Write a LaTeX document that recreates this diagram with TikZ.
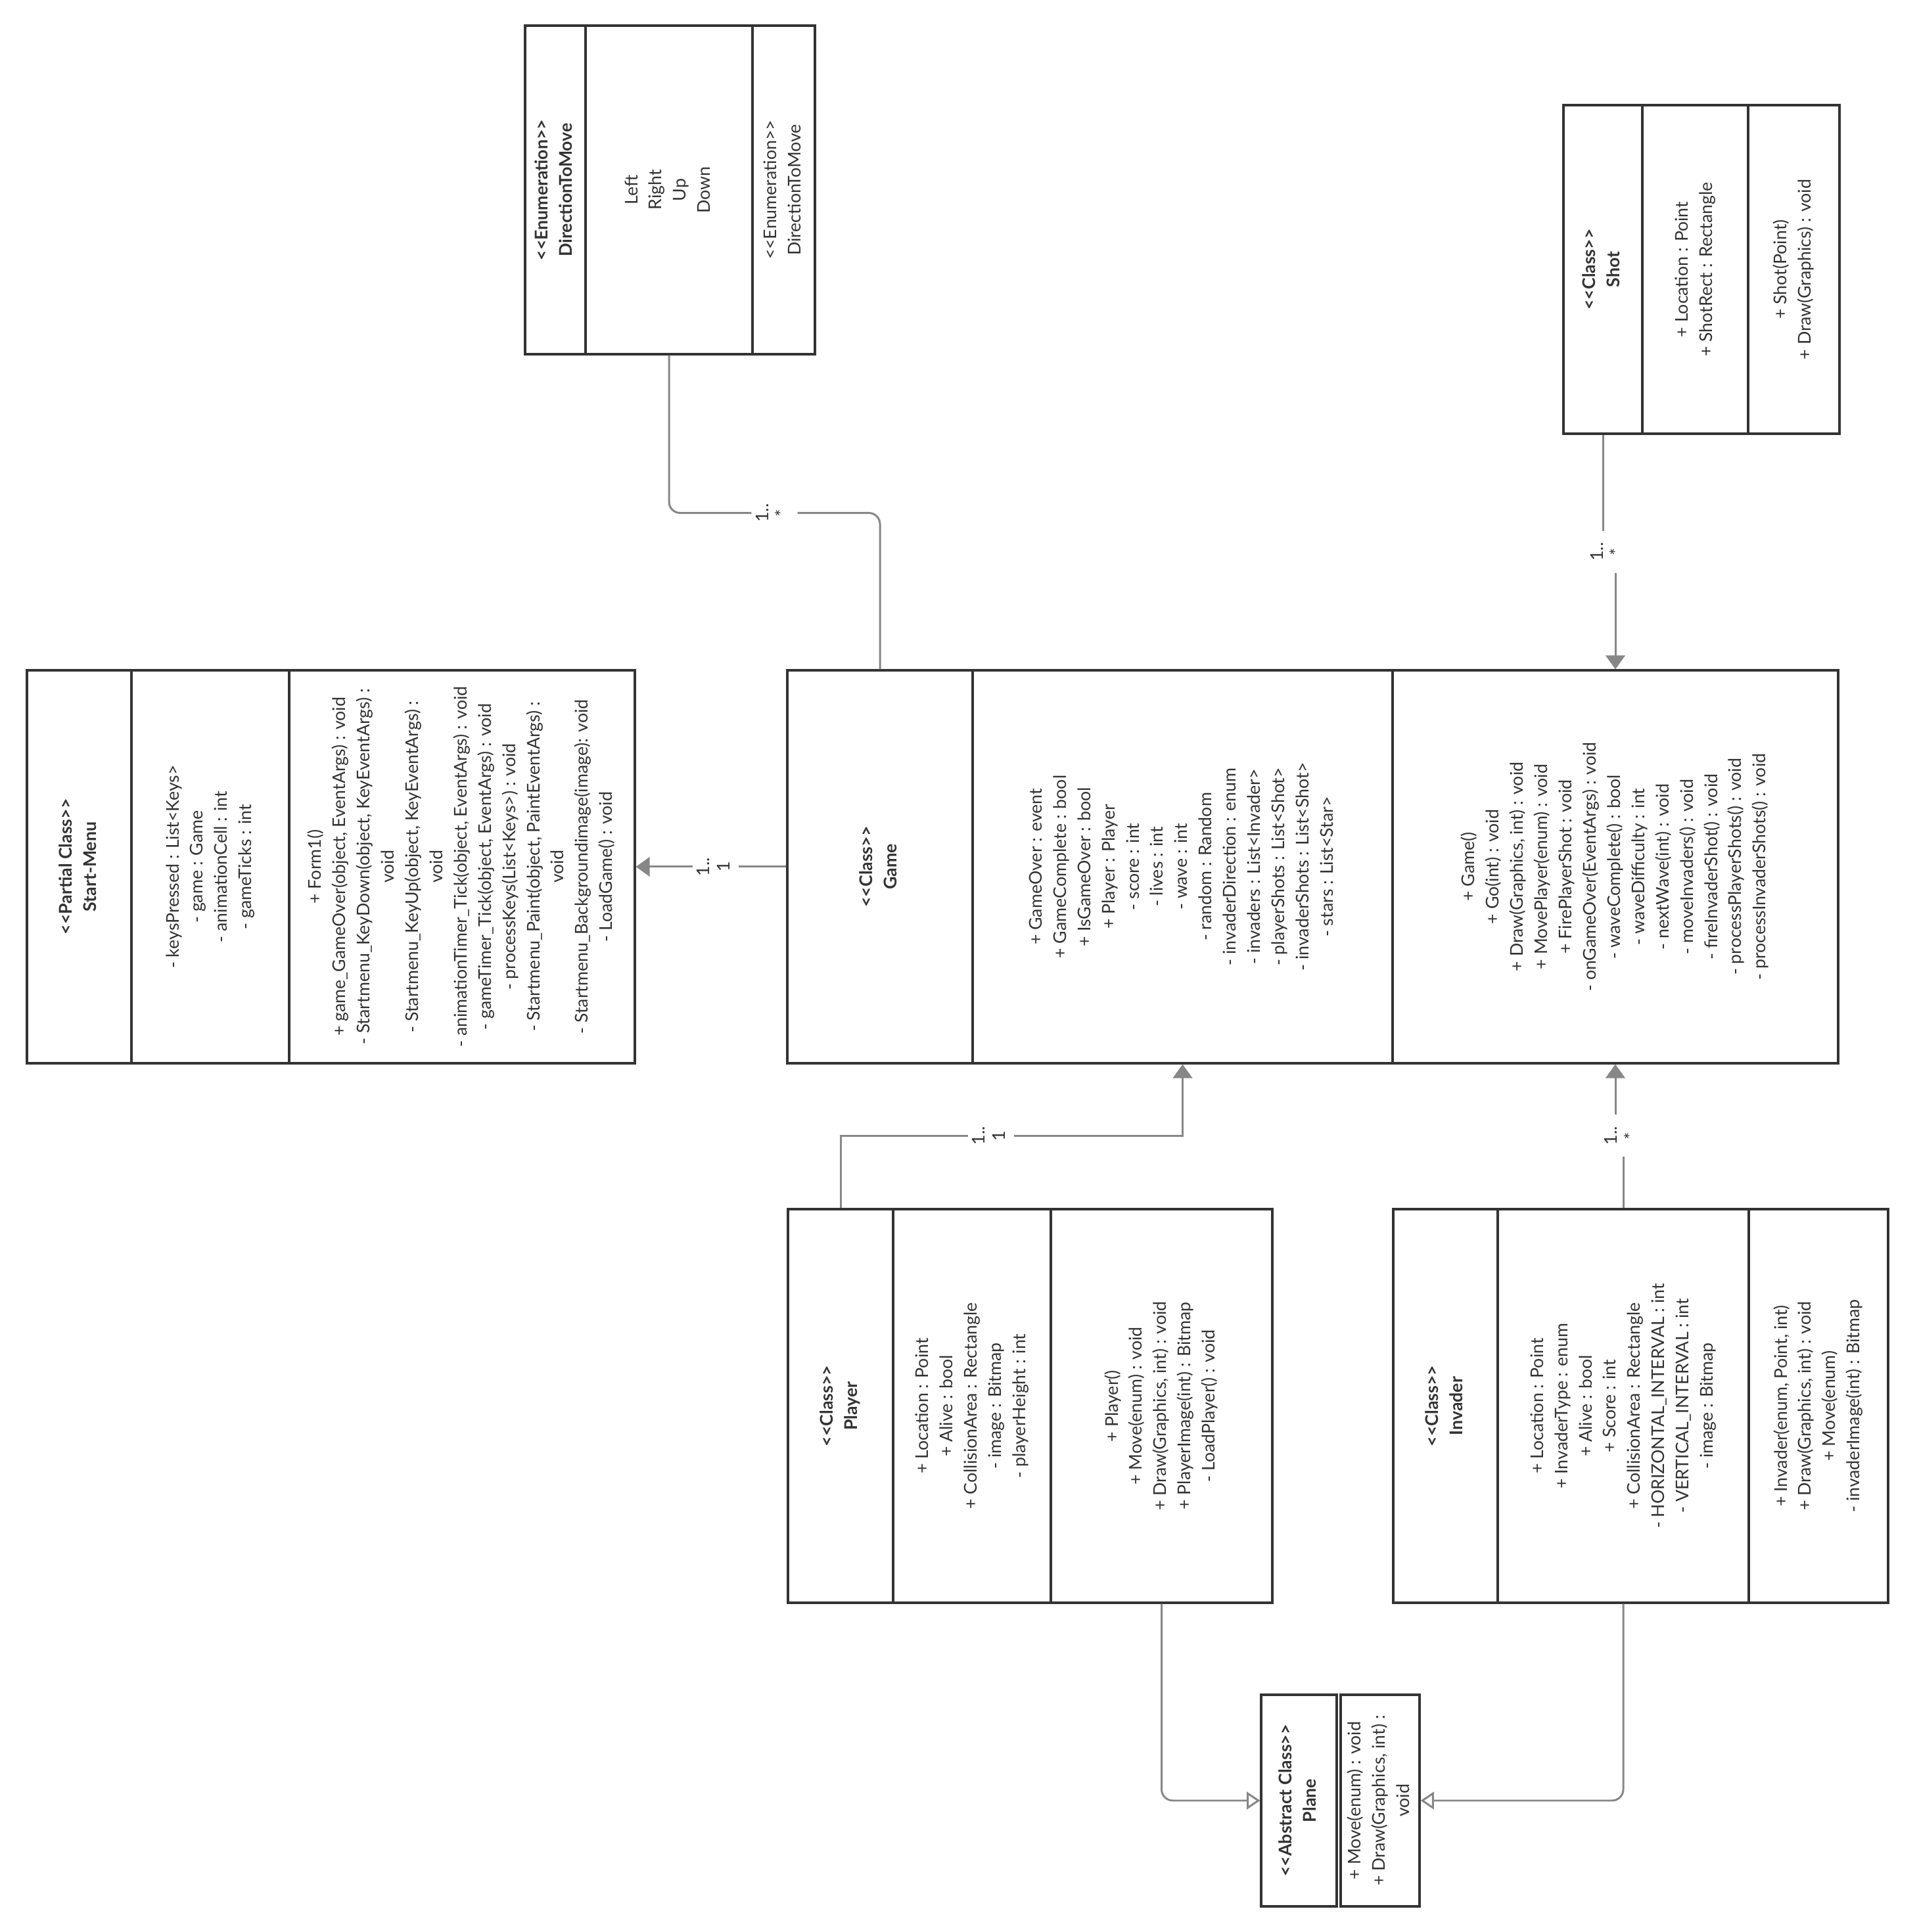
\documentclass[tikz,border=0pt]{standalone}
\usepackage{fontspec}
\setmainfont{Lato}
\usepackage{graphicx}
\usetikzlibrary{arrows.meta}
\definecolor{BoxLine}{HTML}{333333}
\definecolor{LinkGray}{HTML}{878787}
\newcommand{\vtext}[1]{\rotatebox{90}{\begin{tabular}{@{}c@{}}#1\end{tabular}}}
\newcommand{\stereo}[1]{<{}<#1>{}>}

\begin{document}
\begin{tikzpicture}[
    cell/.style={draw=BoxLine, line width=0.9pt, inner sep=0pt, text=BoxLine, font=\fontsize{7.6}{10.5}\selectfont},
    link/.style={draw=LinkGray, line width=0.85pt},
    mult/.style={fill=white, inner xsep=0.5mm, inner ysep=1.8mm, text=BoxLine, font=\fontsize{7.6}{8.6}\selectfont},
    assoc/.style={link, -{Triangle[length=6pt, width=8.4pt]}},
    inherit/.style={link, -{Triangle[open, length=5.8pt, width=7.6pt]}}
]
\useasboundingbox (0,0) rectangle (29.2,29.4);

% Start-Menu
\node[cell, minimum width=1.59cm, minimum height=5.98cm] (smT) at (1.205,16.21) {\vtext{\textbf{\stereo{Partial Class}}\\\textbf{Start-Menu}}};
\node[cell, minimum width=2.40cm, minimum height=5.98cm] (smA) at (3.20,16.21) {\vtext{- keysPressed : List<Keys>\\- game : Game\\- animationCell : int\\- gameTicks : int}};
\node[cell, minimum width=5.26cm, minimum height=5.98cm] (smM) at (7.03,16.21) {\vtext{+ Form1()\\+ game\_GameOver(object, EventArgs) : void\\- Startmenu\_KeyDown(object, KeyEventArgs) :\\void\\- Startmenu\_KeyUp(object, KeyEventArgs) :\\void\\- animationTimer\_Tick(object, EventArgs) : void\\- gameTimer\_Tick(object, EventArgs) : void\\- processKeys(List<Keys>) : void\\- Startmenu\_Paint(object, PaintEventArgs) :\\void\\- Startmenu\_Backgroundimage(image): void\\- LoadGame() : void}};

% Game
\node[cell, minimum width=2.82cm, minimum height=5.98cm] (gT) at (13.39,16.21) {\vtext{\textbf{\stereo{Class}}\\\textbf{Game}}};
\node[cell, minimum width=6.39cm, minimum height=5.98cm] (gA) at (17.995,16.21) {\vtext{+ GameOver : event\\+ GameComplete : bool\\+ IsGameOver : bool\\+ Player : Player\\- score : int\\- lives : int\\- wave : int\\- random : Random\\- invaderDirection : enum\\- invaders : List<Invader>\\- playerShots : List<Shot>\\- invaderShots : List<Shot>\\- stars : List<Star>}};
\node[cell, minimum width=6.78cm, minimum height=5.98cm] (gM) at (24.58,16.21) {\vtext{+ Game()\\+ Go(int) : void\\+ Draw(Graphics, int) : void\\+ MovePlayer(enum) : void\\+ FirePlayerShot : void\\- onGameOver(EventArgs) : void\\- waveComplete() : bool\\- waveDifficulty : int\\- nextWave(int) : void\\- moveInvaders() : void\\- fireInvaderShot() : void\\- processPlayerShots() : void\\- processInvaderShots() : void}};

% DirectionToMove
\node[cell, minimum width=0.92cm, minimum height=5.00cm] (eT) at (8.45,26.51) {\vtext{\textbf{\stereo{Enumeration}}\\\textbf{DirectionToMove}}};
\node[cell, minimum width=2.54cm, minimum height=5.00cm] (eA) at (10.18,26.51) {\vtext{Left\\Right\\Up\\Down}};
\node[cell, minimum width=0.95cm, minimum height=5.00cm] (eM) at (11.925,26.51) {\vtext{\stereo{Enumeration}\\DirectionToMove}};

% Shot
\node[cell, minimum width=1.20cm, minimum height=5.00cm] (sT) at (24.39,25.30) {\vtext{\textbf{\stereo{Class}}\\\textbf{Shot}}};
\node[cell, minimum width=1.61cm, minimum height=5.00cm] (sA) at (25.795,25.30) {\vtext{+ Location : Point\\+ ShotRect : Rectangle}};
\node[cell, minimum width=1.39cm, minimum height=5.00cm] (sM) at (27.295,25.30) {\vtext{+ Shot(Point)\\+ Draw(Graphics) : void}};

% Player
\node[cell, minimum width=1.60cm, minimum height=5.99cm] (pT) at (12.79,8.005) {\vtext{\textbf{\stereo{Class}}\\\textbf{Player}}};
\node[cell, minimum width=2.40cm, minimum height=5.99cm] (pA) at (14.79,8.005) {\vtext{+ Location : Point\\+ Alive : bool\\+ CollisionArea : Rectangle\\- image : Bitmap\\- playerHeight : int}};
\node[cell, minimum width=3.37cm, minimum height=5.99cm] (pM) at (17.675,8.005) {\vtext{+ Player()\\+ Move(enum) : void\\+ Draw(Graphics, int) : void\\+ PlayerImage(int) : Bitmap\\- LoadPlayer() : void}};

% Invader
\node[cell, minimum width=1.59cm, minimum height=5.99cm] (iT) at (21.995,8.005) {\vtext{\textbf{\stereo{Class}}\\\textbf{Invader}}};
\node[cell, minimum width=3.82cm, minimum height=5.99cm] (iA) at (24.70,8.005) {\vtext{+ Location : Point\\+ InvaderType : enum\\+ Alive : bool\\+ Score : int\\+ CollisionArea : Rectangle\\- HORIZONTAL\_INTERVAL : int\\- VERTICAL\_INTERVAL : int\\- image : Bitmap}};
\node[cell, minimum width=2.12cm, minimum height=5.99cm] (iM) at (27.67,8.005) {\vtext{+ Invader(enum, Point, int)\\+ Draw(Graphics, int) : void\\+ Move(enum)\\- invaderImage(int) : Bitmap}};

% Plane
\node[cell, minimum width=1.15cm, minimum height=3.22cm] (plT) at (19.765,2.00) {\vtext{\textbf{\stereo{Abstract Class}}\\\textbf{Plane}}};
\node[cell, minimum width=1.20cm, minimum height=3.22cm] (plM) at (21.00,2.00) {\vtext{+ Move(enum) : void\\+ Draw(Graphics, int) :\\void}};

% Edges
\draw[link, rounded corners=0.17cm] (eA.south) -- ++(0,-2.40) -| node[mult, pos=0.25] {\vtext{1..\\{*}}} (gT.north);
\draw[assoc] (sT.south) -- ++(0,-1.78) -| node[mult, pos=0.25] {\vtext{1..\\{*}}} (gM.north);
\draw[assoc] (gT.west) -- node[mult, pos=0.47] {\vtext{1..\\1}} (smM.east);
\draw[assoc] (pT.north) -- ++(0,1.10) -| node[mult, pos=0.22] {\vtext{1..\\1}} (gA.south);
\draw[assoc] (iA.north) -- ++(0,1.10) -| node[mult, pos=0] {\vtext{1..\\{*}}} (gM.south);
\draw[inherit, rounded corners=0.17cm] (pM.south) |- (plT.west);
\draw[inherit, rounded corners=0.17cm] (iA.south) |- (plM.east);
\end{tikzpicture}
\end{document}
